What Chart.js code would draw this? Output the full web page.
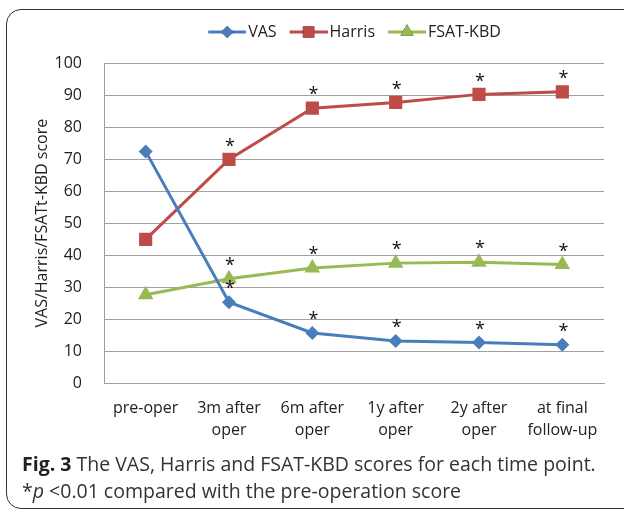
<!DOCTYPE html>
<html>
<head>
<meta charset="utf-8">
<script src="https://cdn.jsdelivr.net/npm/chart.js@4"></script>
<style>
  html, body { margin: 0; padding: 0; background: #fff; }
  body { width: 624px; height: 511px; position: relative; overflow: hidden; font-family: "Open Sans", sans-serif; }
  #frame {
    position: absolute; left: 6px; top: 9px; width: 640px; height: 500px;
    border: 1.5px solid #333; border-radius: 15px; box-sizing: border-box;
  }
  #wrap { position: absolute; left: 6px; top: 9px; width: 612px; height: 447px; }
  #caption {
    position: absolute; left: 22px; top: 450px; width: 604px;
    font-size: 19.5px; line-height: 27px; color: #333; white-space: nowrap;
  }
  #caption b { font-weight: 700; color: #222; }
</style>
</head>
<body>
<div id="frame"></div>
<div id="wrap"><canvas id="chart" width="612" height="447"></canvas></div>
<div id="caption"><b>Fig. 3</b> The VAS, Harris and FSAT-KBD scores for each time point.<br>*<i>p</i> &lt;0.01 compared with the pre-operation score</div>
<script>
const timePoints = [
  "pre-oper",
  ["3m after", "oper"],
  ["6m after", "oper"],
  ["1y after", "oper"],
  ["2y after", "oper"],
  ["at final", "follow-up"],
];
const vasScores = [72.4, 25.3, 15.7, 13.2, 12.7, 12.0];
const harrisScores = [44.9, 69.9, 85.9, 87.7, 90.2, 91.0];
const fsatScores = [27.6, 32.6, 36.0, 37.5, 37.8, 37.1];
// p < 0.01 vs. pre-operation
const significant = [false, true, true, true, true, true];

const yTicks = { min: 0, max: 100, step: 10 };

const FONT = "'Open Sans', sans-serif";
const TEXT = "#222";

// Little line+marker picture for the legend, like Excel draws it
const legendIcon = (ds) => {
  const c = document.createElement("canvas");
  c.width = 44;
  c.height = 18;
  const ctx = c.getContext("2d");
  ctx.strokeStyle = ds.borderColor;
  ctx.lineWidth = 3;
  ctx.beginPath();
  ctx.moveTo(6, 9);
  ctx.lineTo(44, 9);
  ctx.stroke();
  Chart.helpers.drawPoint(ctx, {
    pointStyle: ds.pointStyle,
    radius: ds.pointRadius * 0.85,
    rotation: 0,
    borderWidth: 0,
  }, 25, 9);
  ctx.fillStyle = ds.borderColor;
  ctx.fill();
  return c;
};

// extra room under the legend, and centre it over the plot area
const legendGap = {
  id: "legendGap",
  beforeInit(chart) {
    const fit = chart.legend.fit;
    chart.legend.fit = function () {
      fit.call(this);
      this.height += 13;
    };
  },
  afterLayout(chart) {
    chart.legend.left += 38;
    chart.legend.right += 38;
  },
};

const asterisks = {
  id: "asterisks",
  afterDatasetsDraw(chart) {
    const ctx = chart.ctx;
    ctx.save();
    ctx.fillStyle = "#111";
    ctx.font = "18px " + FONT;
    ctx.textAlign = "center";
    ctx.textBaseline = "middle";
    chart.data.datasets.forEach((ds, i) => {
      chart.getDatasetMeta(i).data.forEach((pt, j) => {
        if (significant[j]) ctx.fillText("*", pt.x + 1, pt.y - 13);
      });
    });
    ctx.restore();
  },
};

const series = (label, data, color, style, radius) => ({
  label,
  data,
  borderColor: color,
  backgroundColor: color,
  borderWidth: 3,
  pointStyle: style,
  pointRadius: radius,
  pointHoverRadius: radius,
  pointBorderWidth: 0,
  tension: 0,
});

new Chart(document.getElementById("chart"), {
  type: "line",
  data: {
    labels: timePoints,
    datasets: [
      series("VAS", vasScores, "#4a7ebb", "rectRot", 7),
      series("Harris", harrisScores, "#be4b48", "rect", 9.3),
      series("FSAT-KBD", fsatScores, "#98b954", "triangle", 9),
    ],
  },
  options: {
    responsive: false,
    animation: false,
    layout: { padding: { top: 2, left: 23, right: 14, bottom: 0 } },
    plugins: {
      legend: {
        position: "top",
        labels: {
          usePointStyle: true,
          pointStyleWidth: 32,
          boxHeight: 16,
          padding: 13,
          color: TEXT,
          font: { family: FONT, size: 16 },
          generateLabels: (chart) =>
            chart.data.datasets.map((ds, i) => ({
              text: ds.label,
              pointStyle: legendIcon(ds),
              datasetIndex: i,
              fontColor: TEXT,
              lineWidth: 0,
              hidden: false,
            })),
        },
      },
      tooltip: { enabled: false },
    },
    scales: {
      x: {
        offset: true,
        grid: { display: false, drawTicks: false },
        border: { color: "#a0a0a0", width: 1 },
        ticks: {
          color: TEXT,
          padding: 14,
          maxRotation: 0,
          autoSkip: false,
          font: { family: FONT, size: 16, lineHeight: 1.4 },
        },
      },
      y: {
        min: yTicks.min,
        max: yTicks.max,
        afterFit: (scale) => { scale.width = 75; },
        grid: { color: "#a0a0a0", lineWidth: 1, drawTicks: false },
        border: { color: "#a0a0a0", width: 1 },
        ticks: {
          stepSize: yTicks.step,
          color: TEXT,
          padding: 22,
          font: { family: FONT, size: 16 },
        },
        title: {
          display: true,
          text: "VAS/Harris/FSATt-KBD score",
          color: TEXT,
          font: { family: FONT, size: 16 },
          padding: 4,
        },
      },
    },
  },
  plugins: [legendGap, asterisks],
});
</script>
</body>
</html>
